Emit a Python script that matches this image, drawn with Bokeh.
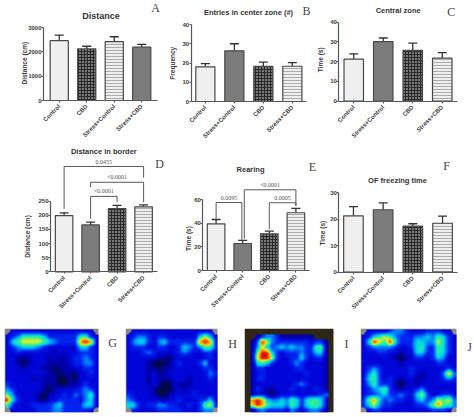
import math
import numpy as np
from bokeh.embed import file_html
from bokeh.resources import INLINE
from bokeh.layouts import column, row
from bokeh.models import (ColumnDataSource, FixedTicker, Label, LinearColorMapper,
                          Range1d, TeeHead, Whisker)
from bokeh.plotting import figure

# ---------- data ----------
cats_a = ["Control", "CBD", "Stress+Control", "Stress+CBD"]
cats_b = ["Control", "Stress+Control", "CBD", "Stress+CBD"]

distance = [2460, 2120, 2420, 2190]
distance_top = [2690, 2230, 2620, 2310]
entries = [18.0, 26.3, 18.2, 18.3]
entries_top = [19.7, 30.0, 20.5, 20.2]
central = [21.3, 30.2, 25.8, 21.8]
central_top = [24.0, 32.0, 29.4, 24.6]
border = [199, 166, 224, 230]
border_top = [209, 176, 235, 237]
rearing = [39.6, 22.9, 31.1, 49.0]
rearing_top = [43.3, 25.5, 33.4, 52.7]
freezing = [21.3, 23.6, 17.4, 18.5]
freezing_top = [24.8, 26.2, 18.3, 21.2]

ticks_distance = [0, 1000, 2000, 3000]
ticks_40 = [0, 10, 20, 30, 40]
ticks_border = [0, 50, 100, 150, 200, 250]
ticks_rearing = [0, 20, 40, 60]
ticks_freezing = [0, 10, 20, 30]

# brackets: from-bar, to-bar, height, left foot, right foot, label
brackets_border = [
    (0, 3, 373, 223, 333, "0.0455"),
    (1, 3, 317, 300, 246, "<0.0001"),
    (1, 2, 267, 188, 246, "<0.0001"),
]
brackets_rearing = [
    (0, 0.97, 57.7, 44, 26, "0.0095"),
    (1.06, 3, 68.5, 27, 55, "<0.0001"),
    (2, 3, 57.5, 35, 55, "0.0005"),
]

# heat maps, digit = occupancy level, '.' = outside the arena
heat_g = [
    ".2222222222222222.",
    "234666653333336632",
    "256777765433338982",
    "234555432222225532",
    "223222222122223332",
    "221112221211233432",
    "221012221111233442",
    "222122211011122332",
    "222222221101102232",
    "222221211100102222",
    "322222211100112322",
    "432222210122223432",
    "642222101223243462",
    "953222102233332452",
    "632223333453333552",
    ".2222233344333332.",
]
heat_h = [
    ".2222222222222222.",
    "234432332222225752",
    "245532453333338983",
    "233322332235434663",
    "222343222234322332",
    "222222110222222232",
    "222210001232223522",
    "222211011222222332",
    "222212112222222243",
    "222212111222122232",
    "222212100211122222",
    "222221000121222222",
    "322221001222232222",
    "432222212232223352",
    "553233443322323673",
    ".3222233333222344.",
]
heat_i = [
    "..................",
    "..134431111111....",
    ".1397433333332331.",
    ".1475345454433661.",
    ".1699532333433551.",
    ".1799732233532331.",
    ".1565322234322221.",
    ".1332222223322221.",
    ".1232222222232221.",
    ".1332222222222221.",
    ".1222222223432221.",
    ".1321122232222321.",
    ".1221012222222234.",
    ".8985445465356652.",
    ".7986555465356652.",
    ".1343333243234431.",
]
heat_j = [
    ".2222344322233322.",
    "235676433344546532",
    "259769533355447532",
    "234444322356336532",
    "222332212255336532",
    "222222101233235422",
    "222222212222223322",
    "234322222322222232",
    "246322222321222484",
    "256323212211222343",
    "246333101212222222",
    "234563212234222222",
    "233453343257322332",
    "368534332245347674",
    "357433222233468664",
    ".2332222222223332.",
]

# ---------- styles ----------
STYLE = {
    "Control": dict(fill="#efefef", hatch=" ", hc="#dddddd"),
    "CBD": dict(fill="#2a2a2a", hatch="dot", hc="#eeeeee"),
    "Stress+Control": dict(fill="#7c7c7c", hatch=" ", hc="#7c7c7c"),
    "Stress+CBD": dict(fill="#f0f0f0", hatch="horizontal_line", hc="#ababab"),
}
STYLE_A = dict(STYLE)
STYLE_A["Stress+Control"] = STYLE["Stress+CBD"]
STYLE_A["Stress+CBD"] = STYLE["Stress+Control"]

FONT = "Liberation Sans"
DARK = "#3c3c3c"
AXIS = "#585858"
ROW_TOPS = [0, 146, 318]
ROW_H = [146, 172, 99]
ANCHORS = ["#000a44", "#0000a8", "#0006d8", "#0024f0", "#0084ff",
           "#00dce6", "#30f090", "#e8f020", "#ff8c00", "#dc1000"]


def letter_label(p, text, x, y):
    p.add_layout(Label(x=x, y=y, text=text, text_font="Liberation Serif", text_font_size="12px",
                       text_color="#444444", text_align="center", text_baseline="middle"))


def bar_panel(title, title_size, tx, ty, cats, vals, tops, ticks, ylabel, ylx, yly, style,
              fig_l, fig_r, row_i, fl, fr, axis_top, axis_bottom, spacing, letter, lx, ly, brackets=None):
    row_top = ROW_TOPS[row_i]
    h = ROW_H[row_i]
    ymax = ticks[-1]
    pad = ((fr - fl) / spacing - 4) / 2
    x_start = -0.5 - pad
    to_x = lambda px: x_start + (px - fl) / spacing
    to_y = lambda py: ymax * (axis_bottom - py) / (axis_bottom - axis_top)
    p = figure(width=fig_r - fig_l, height=h, x_range=Range1d(to_x(fig_l), to_x(fig_r)),
               y_range=Range1d(to_y(row_top + h), to_y(row_top)),
               output_backend="svg", toolbar_location=None, title=None,
               min_border_left=0, min_border_right=0, min_border_top=0, min_border_bottom=0)
    p.grid.visible = False
    p.outline_line_color = None
    xs = list(range(len(cats)))
    src = ColumnDataSource(dict(
        x=xs, val=vals, top=tops, base=[0] * 4,
        fill=[style[c]["fill"] for c in cats],
        hatch=[style[c]["hatch"] for c in cats],
        hc=[style[c]["hc"] for c in cats]))
    p.vbar(x="x", top="val", bottom="base", width=0.66, source=src, fill_color="fill",
           hatch_pattern="hatch", hatch_color="hc", hatch_scale=3, hatch_weight=1.1,
           line_color="#484848", line_width=1.2)
    p.add_layout(Whisker(base="x", lower="val", upper="top", source=src, line_color="#333333",
                         line_width=1.3, lower_head=None,
                         upper_head=TeeHead(size=9, line_color="#333333", line_width=1.3)))
    for ax in (p.xaxis[0], p.yaxis[0]):
        ax.axis_line_color = AXIS
        ax.axis_line_width = 1.2
        ax.major_tick_line_color = AXIS
        ax.major_tick_line_width = 1.1
        ax.major_tick_out = 2
        ax.major_tick_in = 0
        ax.minor_tick_line_color = None
        ax.major_label_text_font = FONT
        ax.major_label_text_font_size = "6px"
        ax.major_label_text_font_style = "bold"
        ax.major_label_text_color = DARK
    p.xaxis.ticker = FixedTicker(ticks=xs)
    p.xaxis.major_label_overrides = {i: c for i, c in enumerate(cats)}
    p.xaxis.bounds = (x_start, to_x(fr))
    p.xaxis.major_label_orientation = math.pi / 4
    p.xaxis.major_label_standoff = 3
    p.xaxis.fixed_location = 0
    p.yaxis.ticker = FixedTicker(ticks=ticks)
    p.yaxis.bounds = (0, ymax)
    p.yaxis.major_label_standoff = 0
    p.yaxis.fixed_location = x_start
    p.add_layout(Label(x=to_x(ylx), y=to_y(yly), text=ylabel, angle=math.pi / 2,
                       text_font=FONT, text_font_size="6.5px", text_font_style="bold",
                       text_color=DARK, text_align="center", text_baseline="middle"))
    if brackets:
        for a, b, y, foot_a, foot_b, txt in brackets:
            p.line([a, a, b, b], [foot_a, y, y, foot_b], line_color="#5a5a5a", line_width=1)
            p.text([(a + b) / 2], [y + ymax * 0.07], text=[txt], text_font=FONT, text_font_size="6px",
                   text_color="#555555", text_align="center", text_baseline="middle")
    p.add_layout(Label(x=to_x(tx), y=to_y(ty), text=title, text_font=FONT, text_font_size=title_size,
                       text_font_style="bold", text_color="#333333", text_align="center",
                       text_baseline="middle"))
    letter_label(p, letter, to_x(lx), to_y(ly))
    return p


def smooth(grid, up=6):
    mask = np.array([[0.0 if c == "." else 1.0 for c in r.ljust(18, ".")[:18]] for r in grid])
    vals = np.array([[0.0 if c == "." else float(c) for c in r.ljust(18, ".")[:18]] for r in grid])
    nr, nc = vals.shape
    xc, yc = np.arange(nc) + 0.5, np.arange(nr) + 0.5
    xf = (np.arange(nc * up) + 0.5) / up
    yf = (np.arange(nr * up) + 0.5) / up
    kernel = np.ones(2) / 2

    def resample(a):
        a = np.array([np.interp(xf, xc, line) for line in a])
        a = np.array([np.interp(yf, yc, line) for line in a.T]).T
        a = np.array([np.convolve(np.pad(line, 4), kernel, "same")[4:-4] for line in a])
        a = np.array([np.convolve(np.pad(line, 4), kernel, "same")[4:-4] for line in a.T]).T
        return a

    v = resample(vals)
    m = resample(mask)
    out = np.where(m > 0.55, v / np.maximum(m, 0.01), np.nan)
    return out[::-1]


def heat_palette():
    rgb = np.array([[int(a[i:i + 2], 16) for i in (1, 3, 5)] for a in ANCHORS], float)
    pos = np.linspace(0, 9, 256)
    out = []
    for t in pos:
        out.append("#%02x%02x%02x" % tuple(int(round(np.interp(t, np.arange(10), rgb[:, k]))) for k in range(3)))
    return out


def heat_panel(grid, bg, fig_l, fig_r, fl, fr, letter, lx, ly):
    row_top = ROW_TOPS[2]
    h = ROW_H[2]
    ft, fb = 328, 412
    arr = smooth(grid)
    nr, nc = len(grid), 18
    cell = (fr - fl) / nc
    p = figure(width=fig_r - fig_l, height=h, x_range=Range1d(0, (fig_r - fl) / cell), y_range=Range1d(0, nr),
               output_backend="svg", toolbar_location=None, title=None,
               min_border_left=round(fl - fig_l), min_border_right=0,
               min_border_top=ft - row_top, min_border_bottom=row_top + h - fb)
    p.axis.visible = False
    p.grid.visible = False
    p.outline_line_color = None
    p.quad(left=[0], right=[nc], bottom=[0], top=[nr], fill_color=bg, line_color=None)
    mapper = LinearColorMapper(palette=heat_palette(), low=0, high=9, nan_color=(0, 0, 0, 0))
    p.image(image=[arr], x=0, y=0, dw=nc, dh=nr, color_mapper=mapper)
    letter_label(p, letter, (lx - fl) / cell, (fb - ly) / (fb - ft) * nr)
    return p


a = bar_panel("Distance", "9px", 100.5, 15, cats_a, distance, distance_top, ticks_distance, "Distance (cm)", 23.5, 62.7, STYLE_A,
              0, 165, 0, 43, 157, 27, 100, 27.5, "A", 155, 7)
b = bar_panel("Entries in center zone (#)", "7.5px", 248, 12.3, cats_b, entries, entries_top, ticks_40, "Frequency", 171.7, 62.7, STYLE,
              165, 315, 0, 190.7, 306, 24, 101, 29, "B", 306, 10)
c = bar_panel("Central zone", "7.5px", 397.7, 9.7, cats_b, central, central_top, ticks_40, "Time (s)", 319.7, 59.3, STYLE,
              315, 474, 0, 338.3, 456.7, 21.7, 100.7, 29.5, "C", 450.7, 11)
d = bar_panel("Distance in border", "7.5px", 103.3, 151, cats_b, border, border_top, ticks_border, "Distance (cm)", 27, 236, STYLE,
              0, 170, 1, 50, 156.7, 200.7, 271.3, 26.5, "D", 159, 163, brackets_border)
e = bar_panel("Rearing", "7.5px", 250, 169, cats_b, rearing, rearing_top, ticks_rearing, "Time (s)", 188, 238, STYLE,
              170, 318, 1, 202.3, 308.7, 199.3, 270, 26.6, "E", 312, 166, brackets_rearing)
f = bar_panel("OF freezing time", "7.5px", 397, 180, cats_b, freezing, freezing_top, ticks_freezing, "Time (s)", 322, 232.7, STYLE,
              318, 474, 1, 338.3, 456.7, 192.3, 271.7, 29.7, "F", 446, 165)

g = heat_panel(heat_g, "#8a8480", 0, 118, 4, 98, "G", 112, 342)
h = heat_panel(heat_h, "#8f8a88", 118, 238, 125, 217, "H", 232, 343)
i = heat_panel(heat_i, "#2e2618", 238, 352, 244, 333, "I", 346, 343)
j = heat_panel(heat_j, "#8f8a88", 352, 474, 360, 456, "J", 469, 346)

page = column(row(a, b, c, spacing=0), row(d, e, f, spacing=0), row(g, h, i, j, spacing=0), spacing=0)
open("out.html", "w").write(file_html(page, INLINE))
